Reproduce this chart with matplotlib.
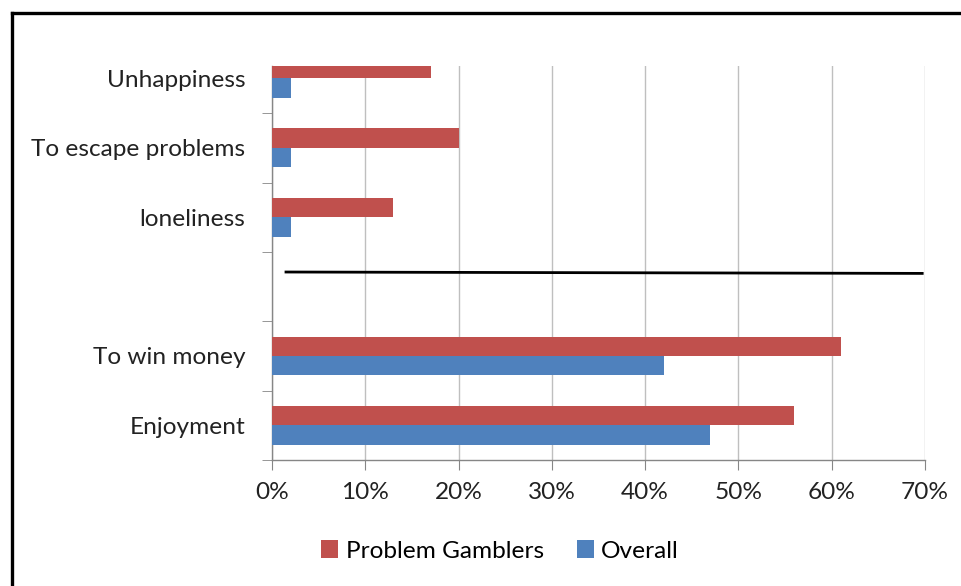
import matplotlib.pyplot as plt
from matplotlib.lines import Line2D
from matplotlib.ticker import FixedLocator, PercentFormatter

# Reasons for gambling, bottom to top (blank slot holds the divider line)
categories = ['Enjoyment', 'To win money', '', 'loneliness', 'To escape problems', 'Unhappiness']
problem_gamblers = [56, 61, None, 13, 20, 17]
overall = [47, 42, None, 2, 2, 2]

divider_x = [1.5, 69.7]
divider_y = [2.21, 2.19]

RED = '#C0504D'
BLUE = '#4F81BD'
FS = 17.6


def main() -> None:
    plt.rcParams['font.family'] = ['Lato', 'DejaVu Sans']
    fig = plt.figure(figsize=(9.62, 5.86), dpi=100)
    ax = fig.add_axes([272 / 962, 1 - 460 / 586, (925 - 272) / 962, (460 - 66) / 586])

    h = 0.28
    ys = range(len(categories))
    for y, pg, ov in zip(ys, problem_gamblers, overall):
        if pg is None:
            continue
        ax.barh(y + h / 2, pg, height=h, color=RED, zorder=3)
        ax.barh(y - h / 2, ov, height=h, color=BLUE, zorder=3)

    # legend proxies
    ax.barh(0, 0, color=RED, label='Problem Gamblers')
    ax.barh(0, 0, color=BLUE, label='Overall')

    ax.plot(divider_x, divider_y, color='black', lw=2, zorder=4)

    ax.set_xlim(0, 70)
    ax.set_ylim(-0.5, 5.18)
    ax.set_xticks(range(0, 71, 10))
    ax.xaxis.set_major_formatter(PercentFormatter(decimals=0))
    ax.set_yticks(list(ys))
    ax.set_yticklabels(categories)
    ax.yaxis.set_minor_locator(FixedLocator([i - 0.5 for i in ys]))
    ax.tick_params(axis='y', which='major', length=0, pad=19, labelsize=FS, colors='#222222')
    ax.tick_params(axis='y', which='minor', length=7, color='#868686', direction='out')
    ax.tick_params(axis='x', length=7, color='#868686', pad=9, labelsize=FS, labelcolor='#222222')

    ax.grid(axis='x', color='#BFBFBF', lw=1, zorder=0)
    for side in ('top', 'right'):
        ax.spines[side].set_visible(False)
    for side in ('left', 'bottom'):
        ax.spines[side].set_color('#868686')
        ax.spines[side].set_linewidth(1)

    fig.legend(loc='center', bbox_to_anchor=(500 / 962, 1 - 551 / 586), ncol=2, frameon=False,
               fontsize=FS, handlelength=0.7, handleheight=0.7,
               handletextpad=0.3, columnspacing=1.35)

    # outer frame (left and top edges)
    fig.add_artist(Line2D([11.5 / 962, 11.5 / 962], [0, 1 - 12.5 / 586], color='black', lw=2.4))
    fig.add_artist(Line2D([11.5 / 962, 1], [1 - 12.5 / 586, 1 - 12.5 / 586], color='black', lw=2.4))

    fig.savefig('out.png', dpi=100)


if __name__ == '__main__':
    main()
